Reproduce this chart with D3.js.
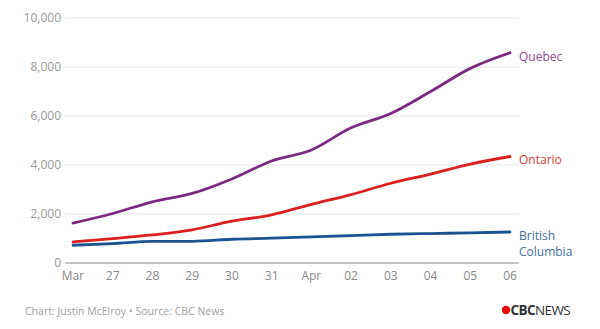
<!DOCTYPE html>
<html>
<head>
<meta charset="utf-8">
<script src="https://cdn.jsdelivr.net/npm/d3@7"></script>
<style>
  body { margin: 0; background: #fff; }
  text { font-family: "Open Sans", sans-serif; }
</style>
</head>
<body>
<svg id="chart" width="600" height="329"></svg>
<script>
// dates: Mar 26 .. Apr 06
const dates = ["2020-03-26", "2020-03-27", "2020-03-28", "2020-03-29", "2020-03-30", "2020-03-31",
               "2020-04-01", "2020-04-02", "2020-04-03", "2020-04-04", "2020-04-05", "2020-04-06"];
const dateLabels = ["Mar", "27", "28", "29", "30", "31", "Apr", "02", "03", "04", "05", "06"];
const quebec = [1629, 2021, 2498, 2840, 3430, 4162, 4611, 5518, 6101, 6997, 7944, 8580];
const ontario = [858, 993, 1144, 1355, 1706, 1966, 2392, 2793, 3255, 3630, 4038, 4347];
const bc = [725, 792, 884, 884, 970, 1013, 1066, 1121, 1174, 1203, 1229, 1266];
const yTicks = [0, 2000, 4000, 6000, 8000, 10000];

const series = [
    { name: ["Quebec"], values: quebec, color: "#7b2a80", label: "#8e4d91" },
    { name: ["Ontario"], values: ontario, color: "#dc1f1f", label: "#d9393a" },
    { name: ["British", "Columbia"], values: bc, color: "#1b5591", label: "#3f6f9f" }
];

const svg = d3.select("#chart");
const parse = d3.timeParse("%Y-%m-%d");
const days = dates.map(parse);

const x = d3.scaleTime()
    .domain(d3.extent(days))
    .range([73, 510]);

const y = d3.scaleLinear()
    .domain([0, 10000])
    .range([263, 18]);

// gridlines + y labels
svg.append("g")
    .selectAll("line")
    .data(yTicks.filter(d => d > 0))
    .enter().append("line")
    .attr("x1", 65).attr("x2", 519)
    .attr("y1", d => y(d)).attr("y2", d => y(d))
    .attr("stroke", "#e6e6e6")
    .attr("stroke-width", 1);

svg.append("g")
    .selectAll("text")
    .data(yTicks)
    .enter().append("text")
    .attr("x", 61)
    .attr("y", d => y(d) + 4)
    .attr("text-anchor", "end")
    .attr("font-size", "12px")
    .attr("fill", "#999")
    .text(d => d3.format(",")(d));

// baseline
svg.append("line")
    .attr("x1", 65).attr("x2", 519)
    .attr("y1", y(0)).attr("y2", y(0))
    .attr("stroke", "#888")
    .attr("stroke-width", 1.2);

// x labels
svg.append("g")
    .selectAll("text")
    .data(days)
    .enter().append("text")
    .attr("x", d => x(d))
    .attr("y", 280)
    .attr("text-anchor", "middle")
    .attr("font-size", "12px")
    .attr("fill", "#888")
    .text((d, i) => dateLabels[i]);

// lines
const line = d3.line()
    .x((d, i) => x(days[i]))
    .y(d => y(d))
    .curve(d3.curveMonotoneX);

series.slice().reverse().forEach(s => {
    svg.append("path")
        .datum(s.values)
        .attr("fill", "none")
        .attr("stroke", s.color)
        .attr("stroke-width", 2.8)
        .attr("stroke-linecap", "round")
        .attr("d", line);

    const last = s.values[s.values.length - 1];
    const t = svg.append("text")
        .attr("x", 519)
        .attr("y", y(last) + 8)
        .attr("font-size", "12px")
        .attr("fill", s.label);
    s.name.forEach((n, i) => {
        t.append("tspan").attr("x", 519).attr("dy", i === 0 ? 0 : 16).text(n);
    });
});

// footer
svg.append("text")
    .attr("x", 25)
    .attr("y", 315)
    .attr("font-size", "10.5px")
    .attr("fill", "#a0a0a0")
    .text("Chart: Justin McElroy \u2022 Source: CBC News");

// logo
const logo = svg.append("g").attr("transform", "translate(506,310)");
logo.append("circle").attr("cx", 0).attr("cy", 0).attr("r", 4.2).attr("fill", "#e60505");
const lt = logo.append("text")
    .attr("x", 4.5)
    .attr("y", 5)
    .attr("font-size", "13.5px")
    .attr("letter-spacing", "-0.6px")
    .attr("fill", "#333");
lt.append("tspan").attr("font-weight", "bold").text("CBC");
lt.append("tspan").text("NEWS");
</script>
</body>
</html>
